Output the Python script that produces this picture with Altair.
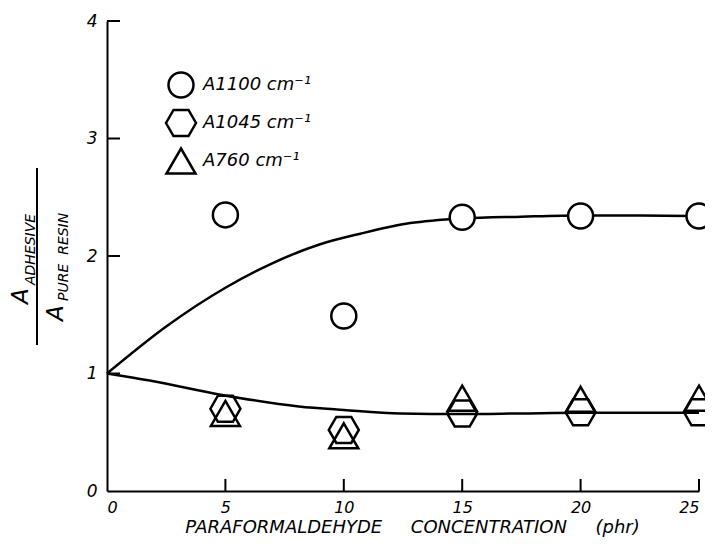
import altair as alt
import pandas as pd

# ---- data ----
conc = [5, 10, 15, 20, 25]
a1100 = [2.35, 1.49, 2.33, 2.34, 2.34]
a1045 = [0.70, 0.52, 0.66, 0.67, 0.67]
a760 = [0.66, 0.47, 0.79, 0.78, 0.79]
series_names = ["A1100 cm⁻¹", "A1045 cm⁻¹", "A760 cm⁻¹"]

upper_x = [0, 2.5, 5, 7, 9, 10.7, 12.8, 15, 17.5, 20, 22.5, 25]
upper_y = [1.0, 1.40, 1.73, 1.94, 2.10, 2.19, 2.28, 2.32, 2.335, 2.345, 2.345, 2.34]
lower_x = [0, 1.8, 4.8, 8.1, 10, 12.4, 15, 17.5, 20, 25]
lower_y = [1.0, 0.94, 0.82, 0.72, 0.69, 0.66, 0.655, 0.66, 0.665, 0.665]

x_ticks = [0, 5, 10, 15, 20, 25]
y_ticks = [0, 1, 2, 3, 4]

FONT = "DejaVu Sans"
W, H = 592, 470

pts = pd.DataFrame(
    [{"x": c, "y": v, "series": series_names[0]} for c, v in zip(conc, a1100)]
    + [{"x": c, "y": v, "series": series_names[1]} for c, v in zip(conc, a1045)]
    + [{"x": c, "y": v, "series": series_names[2]} for c, v in zip(conc, a760)]
)
curves = pd.DataFrame(
    [{"x": a, "y": b, "curve": "upper"} for a, b in zip(upper_x, upper_y)]
    + [{"x": a, "y": b, "curve": "lower"} for a, b in zip(lower_x, lower_y)]
)

xscale = alt.Scale(domain=[0, 25], nice=False, zero=False)
yscale = alt.Scale(domain=[0, 4], nice=False)

hexagon = "M-1.2,0L-0.6,-1.04L0.6,-1.04L1.2,0L0.6,1.04L-0.6,1.04Z"
triangle = "M0,-1L1.16,1L-1.16,1Z"

xaxis = alt.Axis(
    values=x_ticks, format="d", tickSize=0, grid=False, domainColor="black", domainWidth=2,
    labelFont=FONT, labelFontStyle="italic", labelFontSize=16, labelColor="black",
    labelPadding=8, labelAngle=0,
    title="PARAFORMALDEHYDE\u00a0\u00a0\u00a0\u00a0\u00a0CONCENTRATION\u00a0\u00a0\u00a0\u00a0\u00a0(phr)",
    titleFont=FONT, titleFontStyle="italic", titleFontSize=18, titleFontWeight="normal",
    titleColor="black", titlePadding=3, titleX=305,
)
yaxis = alt.Axis(
    values=y_ticks, format="d", tickSize=0, grid=False, domainColor="black", domainWidth=2,
    labelFont=FONT, labelFontStyle="italic", labelFontSize=17, labelColor="black",
    labelPadding=10, title=None,
)

lines = alt.Chart(curves).mark_line(color="black", strokeWidth=2.5, interpolate="monotone").encode(
    x=alt.X("x:Q", scale=xscale, axis=xaxis),
    y=alt.Y("y:Q", scale=yscale, axis=yaxis),
    detail="curve:N",
)

legend = alt.Legend(
    title=None, orient="none", legendX=60, legendY=50, padding=0,
    labelFont=FONT, labelFontStyle="italic", labelFontSize=18, labelColor="black",
    labelOffset=8, rowPadding=2, symbolStrokeColor="black", symbolFillColor="white",
    symbolStrokeWidth=2.5, symbolSize=625, symbolOpacity=1,
)

shape_scale = alt.Scale(domain=series_names, range=["circle", hexagon, triangle])

# white discs behind the A1100 circles so the curve does not show through
discs = alt.Chart(pts).transform_filter(
    alt.datum.series == series_names[0]
).mark_point(size=625, filled=True, fill="white", opacity=1, strokeWidth=0, shape="circle").encode(
    x=alt.X("x:Q", scale=xscale),
    y=alt.Y("y:Q", scale=yscale),
)

points = alt.Chart(pts).mark_point(size=625, strokeWidth=2.5, color="black", filled=False, opacity=1).encode(
    x=alt.X("x:Q", scale=xscale),
    y=alt.Y("y:Q", scale=yscale),
    shape=alt.Shape("series:N", sort=series_names, scale=shape_scale, legend=legend),
)

xt = pd.DataFrame({"t": x_ticks[1:]})
yt = pd.DataFrame({"t": y_ticks[1:]})
xtick_marks = alt.Chart(xt).mark_rule(color="black", strokeWidth=2).encode(
    x=alt.X("t:Q", scale=xscale), y=alt.value(H), y2=alt.value(H - 12))
ytick_marks = alt.Chart(yt).mark_rule(color="black", strokeWidth=2).encode(
    y=alt.Y("t:Q", scale=yscale), x=alt.value(0), x2=alt.value(13))

one = alt.Data(values=[{"k": 1}])
def txt(s, x, y, size):
    return alt.Chart(one).mark_text(
        text=s, angle=270, align="left", baseline="alphabetic",
        font=FONT, fontStyle="italic", fontSize=size, color="black",
    ).encode(x=alt.value(x), y=alt.value(y))

num_A = txt("A", -79, 283, 23)
num_sub = txt("ADHESIVE", -72, 264, 14)
den_A = txt("A", -44, 300, 23)
den_sub = txt("PURE\u00a0\u00a0RESIN", -39, 280, 14)
frac = alt.Chart(one).mark_rule(color="black", strokeWidth=2).encode(
    x=alt.value(-70), y=alt.value(147), y2=alt.value(324))

chart = alt.layer(
    lines, xtick_marks, ytick_marks, discs, points, num_A, num_sub, den_A, den_sub, frac
).properties(
    width=W, height=H, autosize="none",
    padding={"left": 99, "top": 13, "right": 6, "bottom": 51},
    background="white",
).configure_view(stroke=None)

chart.save("out.html", embed_options={"renderer": "svg", "actions": False})
